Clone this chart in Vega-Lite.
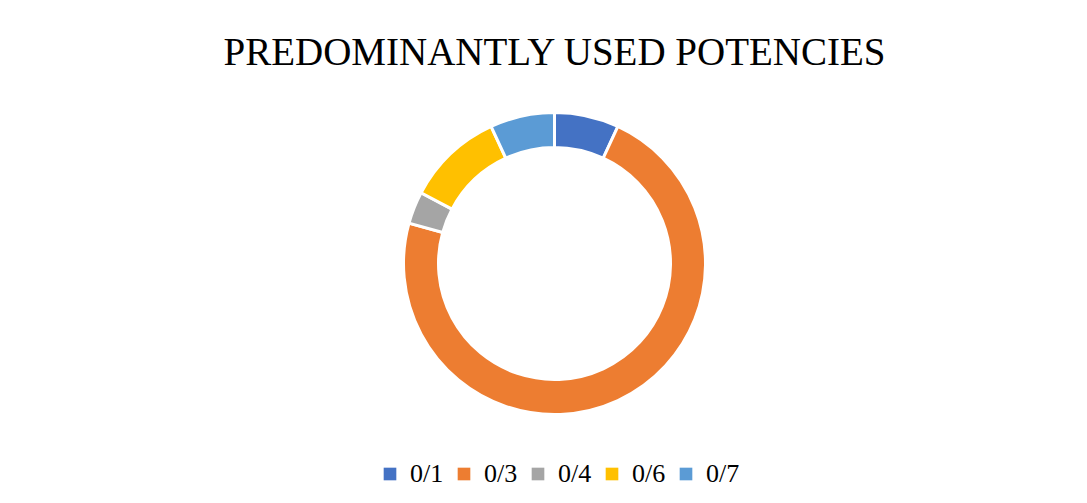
{
  "$schema": "https://vega.github.io/schema/vega-lite/v6.json",
  "autosize": "none",
  "width": 1065,
  "height": 479,
  "padding": {"left": 22, "top": 24, "right": 0, "bottom": 0},
  "background": "white",
  "config": {"view": {"stroke": null}},
  "title": {
    "text": "PREDOMINANTLY USED POTENCIES",
    "font": "Liberation Serif",
    "fontSize": 39,
    "fontWeight": "normal",
    "color": "#000000",
    "anchor": "middle",
    "baseline": "alphabetic",
    "offset": -80
  },
  "data": {
    "values": [
      {"potency": "0/1", "count": 2},
      {"potency": "0/3", "count": 21},
      {"potency": "0/4", "count": 1},
      {"potency": "0/6", "count": 3},
      {"potency": "0/7", "count": 2}
    ]
  },
  "mark": {"type": "arc", "outerRadius": 151, "innerRadius": 116, "stroke": "white", "strokeWidth": 3},
  "encoding": {
    "theta": {"field": "count", "type": "quantitative", "stack": true},
    "order": {"field": "potency", "sort": "ascending"},
    "color": {
      "field": "potency",
      "type": "nominal",
      "scale": {"domain": ["0/1", "0/3", "0/4", "0/6", "0/7"], "range": ["#4472C4", "#ED7D31", "#A5A5A5", "#FFC000", "#5B9BD5"]},
      "legend": {
        "title": null,
        "orient": "none",
        "direction": "horizontal",
        "columns": 5,
        "legendX": 355,
        "legendY": 437,
        "symbolType": "square",
        "symbolSize": 160,
        "symbolStrokeWidth": 0,
        "labelFont": "Liberation Serif",
        "labelFontSize": 26,
        "labelColor": "#000000",
        "labelOffset": 7,
        "columnPadding": 7
      }
    }
  }
}
